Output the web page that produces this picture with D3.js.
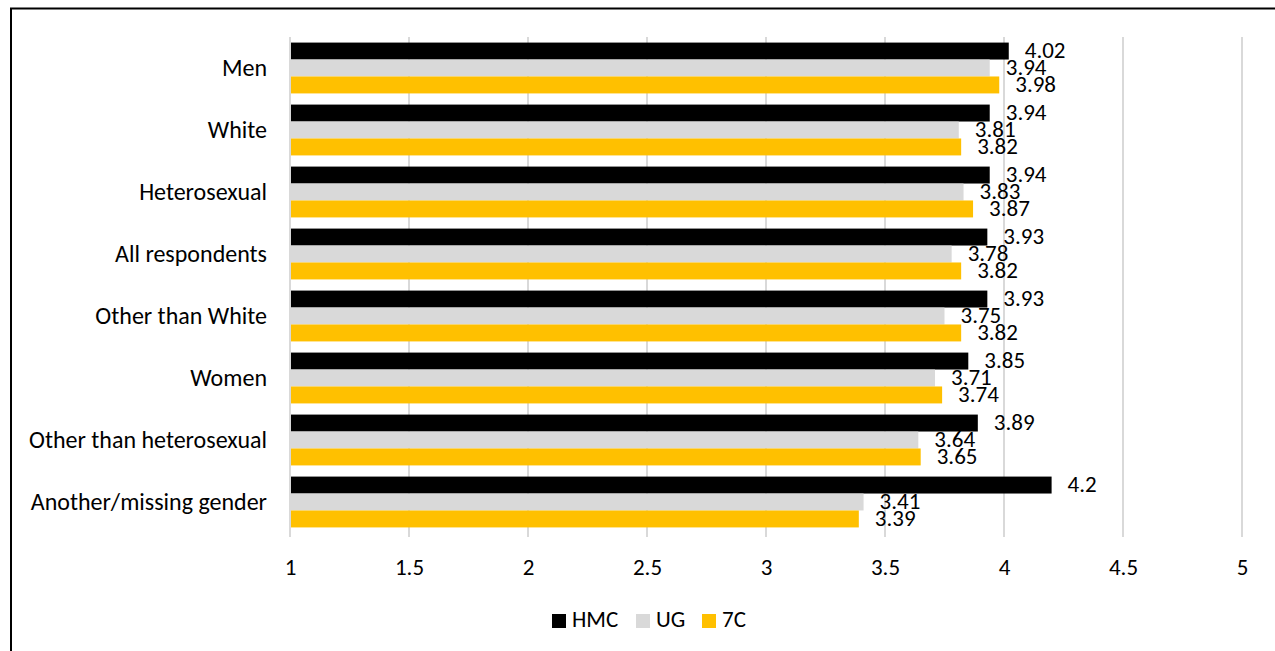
<!DOCTYPE html>
<html><head><meta charset="utf-8">
<script src="https://cdn.jsdelivr.net/npm/d3@7"></script>
<style>body{margin:0;background:#fff;}svg{display:block;}text{font-family:Carlito,Calibri,'Open Sans',sans-serif;fill:#000;}</style>
</head><body>
<svg id="c" width="1275" height="651"></svg>
<script>
const categories = ["Men","White","Heterosexual","All respondents","Other than White","Women","Other than heterosexual","Another/missing gender"];
const seriesNames = ["HMC","UG","7C"];
const hmc = [4.02,3.94,3.94,3.93,3.93,3.85,3.89,4.2];
const ug  = [3.94,3.81,3.83,3.78,3.75,3.71,3.64,3.41];
const sevenC = [3.98,3.82,3.87,3.82,3.82,3.74,3.65,3.39];
const xTicks = [1,1.5,2,2.5,3,3.5,4,4.5,5];
const colors = ["#000000","#d9d9d9","#ffc000"];

const series = [hmc, ug, sevenC];
const svg = d3.select("#c");
const fs = 23;
const ff = "Carlito,Calibri,'Open Sans',sans-serif";

// outer border (left and top only visible)
svg.append("path").attr("d","M11,651 V8.5 H1275").attr("fill","none").attr("stroke","#000").attr("stroke-width",2);

const x = d3.scaleLinear().domain([1,5]).range([290,1242]);
const y = d3.scaleBand().domain(categories).range([37,533]).paddingInner(0.18).paddingOuter(0.09);
const sub = d3.scaleBand().domain(seriesNames).range([0,y.bandwidth()]);

// gridlines
svg.append("g").selectAll("line").data(xTicks.slice(1)).join("line")
  .attr("x1",d=>x(d)).attr("x2",d=>x(d)).attr("y1",37).attr("y2",537)
  .attr("stroke","#d9d9d9").attr("stroke-width",2);
// category axis line
svg.append("line").attr("x1",x(1)).attr("x2",x(1)).attr("y1",37).attr("y2",537)
  .attr("stroke","#d9d9d9").attr("stroke-width",2);

// bars
const g = svg.append("g");
series.forEach((vals,si)=>{
  g.append("g").selectAll("rect").data(vals).join("rect")
    .attr("x",x(1)+1)
    .attr("y",(d,i)=>y(categories[i])+sub(seriesNames[si]))
    .attr("width",d=>x(d)-x(1)-1)
    .attr("height",sub.bandwidth())
    .attr("fill",colors[si]);
  g.append("g").selectAll("text").data(vals).join("text")
    .attr("x",d=>x(d)+16)
    .attr("y",(d,i)=>y(categories[i])+sub(seriesNames[si])+sub.bandwidth()/2+1.5)
    .attr("dominant-baseline","middle")
    .attr("font-size",fs)
    .text(d=>d);
});

// category labels
const yAxis = svg.append("g").attr("transform",`translate(${x(1)},0)`)
  .call(d3.axisLeft(y).tickSize(0).tickPadding(23));
yAxis.select(".domain").remove();
yAxis.selectAll("text").attr("font-size",24).attr("font-family",ff);

// x axis
const xAxis = svg.append("g").attr("transform","translate(0,553)")
  .call(d3.axisBottom(x).tickValues(xTicks).tickSize(0).tickPadding(6).tickFormat(d3.format("")));
xAxis.select(".domain").remove();
xAxis.selectAll("text").attr("font-size",fs).attr("font-family",ff);

// legend
const legendX = [552,636,702];
const lg = svg.append("g");
seriesNames.forEach((n,i)=>{
  lg.append("rect").attr("x",legendX[i]).attr("y",614).attr("width",14).attr("height",14).attr("fill",colors[i]);
  lg.append("text").attr("x",legendX[i]+20).attr("y",622).attr("dominant-baseline","middle").attr("font-size",fs).text(n);
});
</script>
</body></html>
